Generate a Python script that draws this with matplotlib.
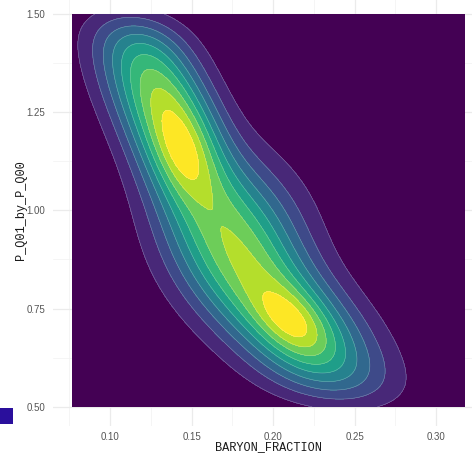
import math
import numpy as np
import matplotlib
matplotlib.use("Agg")
import matplotlib.pyplot as plt
from matplotlib.patches import Rectangle

# ---- density model (mixture components, data units) ----
comp_x   = [0.1442, 0.1233, 0.1760, 0.2141, 0.1445, 0.2117]
comp_y   = [1.1538, 1.3447, 0.9450, 0.7006, 1.1410, 0.7159]
comp_sx  = [0.0202, 0.0236, 0.0293, 0.0356, 0.0109, 0.0155]
comp_sy  = [0.1225, 0.1426, 0.1342, 0.1426, 0.0737, 0.0614]
comp_rho = [-0.324, -0.458, -0.172, -0.600, -0.367, -0.469]
comp_amp = [0.60, 0.65, 0.62, 0.76, 0.12, 0.24]
# the sampled parameter is bounded, smoothing blurs the bounds
y_bounds = [0.50, 1.50]
edge_bw = 0.051

x_limits = [0.0767, 0.3174]
y_limits = [0.50, 1.50]
x_ticks = [0.10, 0.15, 0.20, 0.25, 0.30]
x_ticklabels = ["0.10", "0.15", "0.20", "0.25", "0.30"]
y_ticks = [0.50, 0.75, 1.00, 1.25, 1.50]
y_ticklabels = ["0.50", "0.75", "1.00", "1.25", "1.50"]
level_colors = ["#440154", "#482878", "#3E4A89", "#31688E", "#26828E",
                "#1F9E89", "#35B779", "#6DCD59", "#B4DE2C", "#FDE725"]

# ---- evaluate density on a grid ----
gx = np.linspace(x_limits[0], x_limits[1], 400)
gy = np.linspace(y_limits[0], y_limits[1], 400)
X, Y = np.meshgrid(gx, gy)
Z = np.zeros_like(X)
for mx, my, sx, sy, r, a in zip(comp_x, comp_y, comp_sx, comp_sy, comp_rho, comp_amp):
    dx = (X - mx) / sx
    dy = (Y - my) / sy
    q = (dx * dx - 2 * r * dx * dy + dy * dy) / (1 - r * r)
    Z += a * np.exp(-0.5 * q)
phi = np.vectorize(lambda t: 0.5 * (1 + math.erf(t / math.sqrt(2))))
taper = phi((y_bounds[1] - gy) / edge_bw) - phi((y_bounds[0] - gy) / edge_bw)
Z = Z * taper[:, None]

zmax = Z.max() * 1.0001
levels = np.linspace(0, zmax, 11)

W, H = 472, 455
fig = plt.figure(figsize=(W / 100, H / 100), dpi=100)
fig.patch.set_facecolor("white")

# axes spans beyond the figure (the reference is a crop)
xr = (0.0647, 0.3298)
yr = (0.45, 1.55)
left_px, right_px = 52.5, 484.6
top_px, bot_px = -5.6, 426.4
ax = fig.add_axes([left_px / W, 1 - bot_px / H, (right_px - left_px) / W, (bot_px - top_px) / H])
ax.set_xlim(*xr)
ax.set_ylim(*yr)
ax.set_facecolor("white")
for s in ax.spines.values():
    s.set_visible(False)

ax.set_xticks(x_ticks)
ax.set_xticklabels(x_ticklabels)
ax.set_yticks(y_ticks)
ax.set_yticklabels(y_ticklabels)
ax.set_xticks([0.075, 0.125, 0.175, 0.225, 0.275, 0.325], minor=True)
ax.set_yticks([0.625, 0.875, 1.125, 1.375], minor=True)
ax.grid(True, which="major", color="#EBEBEB", lw=0.9)
ax.grid(True, which="minor", color="#F2F2F2", lw=0.5)
ax.set_axisbelow(True)
ax.tick_params(which="both", length=0, colors="#4D4D4D", labelsize=7)
ax.tick_params(axis="y", pad=5)
ax.tick_params(axis="x", pad=4)
for lab in ax.get_xticklabels() + ax.get_yticklabels():
    lab.set_fontfamily("Liberation Sans")
    lab.set_color("#555555")

ax.contourf(X, Y, Z, levels=levels, colors=level_colors, zorder=2)
ax.contour(X, Y, Z, levels=levels[1:-1], colors="white", linewidths=0.4, alpha=0.35, zorder=3)

fig.text(268 / W, 1 - 447 / H, "BARYON_FRACTION", family="Liberation Mono",
         fontsize=8.6, color="#1a1a1a", ha="center", va="center")
fig.text(21 / W, 1 - 210 / H, "P_Q01_by_P_Q00", family="Liberation Mono",
         fontsize=8.6, color="#1a1a1a", ha="center", va="center", rotation=90)

fig.patches.append(Rectangle((0, 1 - 424 / H), 13 / W, 16.3 / H, transform=fig.transFigure,
                             facecolor="#2A0F9C", edgecolor="none", figure=fig))

fig.savefig("out.png", dpi=100)
